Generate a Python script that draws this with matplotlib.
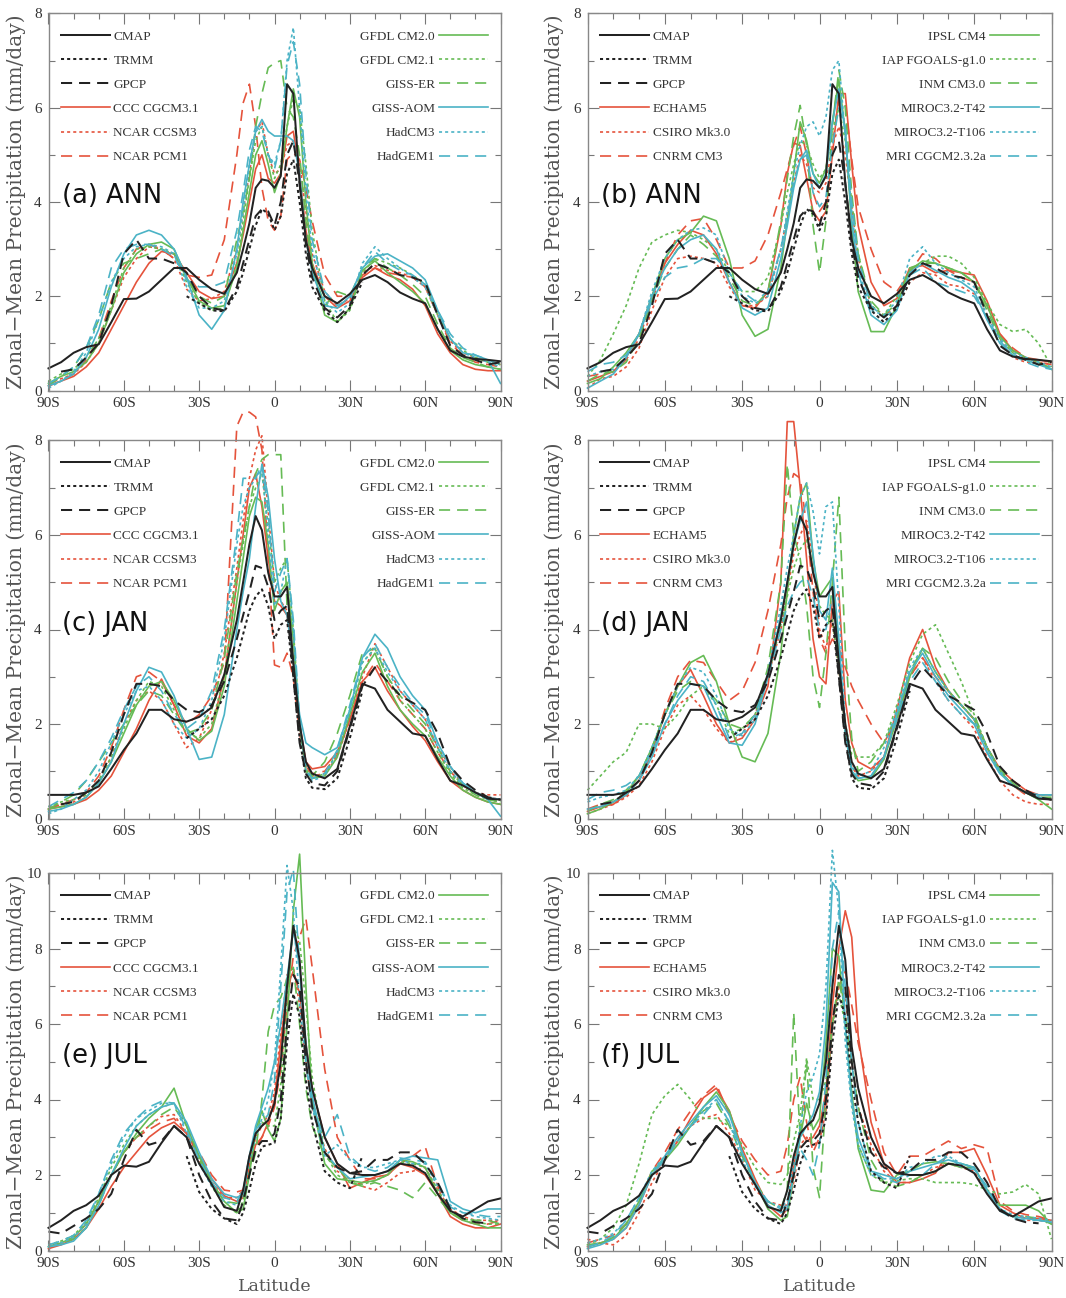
import numpy as np
import matplotlib.pyplot as plt
from matplotlib.lines import Line2D
from matplotlib.ticker import MultipleLocator

nan = np.nan

lat = [-90, -85, -80, -75, -70, -65, -60, -55, -50, -45,
       -40, -35, -30, -25, -20, -15, -12.5, -10, -7.5, -5, -2.5,
       0, 2.5, 5, 7.5, 10, 12.5, 15, 20, 25, 30,
       35, 40, 45, 50, 55, 60, 65, 70, 75, 80, 85, 90]

xtick_pos = [-90, -60, -30, 0, 30, 60, 90]
xtick_lab = ['90S', '60S', '30S', '0', '30N', '60N', '90N']

obs_names = ['CMAP', 'TRMM', 'GPCP']
left_models = ['CCC CGCM3.1', 'NCAR CCSM3', 'NCAR PCM1', 'GFDL CM2.0', 'GFDL CM2.1',
               'GISS-ER', 'GISS-AOM', 'HadCM3', 'HadGEM1']
right_models = ['ECHAM5', 'CSIRO Mk3.0', 'CNRM CM3', 'IPSL CM4', 'IAP FGOALS-g1.0',
                'INM CM3.0', 'MIROC3.2-T42', 'MIROC3.2-T106', 'MRI CGCM2.3.2a']

# ---------------- ANN ----------------
cmap_ann = [0.47, 0.6, 0.8, 0.92, 0.98, 1.45, 1.94, 1.95, 2.1, 2.35,
            2.6, 2.6, 2.35, 2.15, 2.05, 2.5, 3.0, 3.55, 4.3, 4.48, 4.45,
            4.3, 4.55, 6.5, 6.3, 4.4, 3.2, 2.6, 2.0, 1.85, 2.05,
            2.35, 2.45, 2.3, 2.08, 1.95, 1.85, 1.3, 0.85, 0.72, 0.67, 0.65, 0.62]
trmm_ann = [nan, nan, nan, nan, nan, nan, nan, nan, nan, nan,
            nan, 2.0, 1.85, 1.7, 1.68, 2.1, 2.5, 3.0, 3.5, 3.85, 3.75,
            3.4, 3.7, 4.6, 4.9, 4.0, 2.9, 2.2, 1.7, 1.45, 1.75,
            2.3, nan, nan, nan, nan, nan, nan, nan, nan, nan, nan, nan]
gpcp_ann = [nan, 0.4, 0.45, 0.7, 1.0, 1.8, 2.9, 3.2, 2.8, 2.8,
            2.7, 2.5, 2.0, 1.75, 1.7, 2.2, 2.7, 3.2, 3.7, 3.85, 3.8,
            3.5, 4.0, 5.0, 5.3, 4.4, 3.1, 2.4, 1.75, 1.55, 1.8,
            2.45, 2.7, 2.6, 2.45, 2.4, 2.3, 1.6, 0.95, 0.75, 0.65, 0.55, 0.6]

ccc_ann = [0.1, 0.2, 0.3, 0.5, 0.8, 1.3, 1.8, 2.3, 2.7, 2.95,
           2.9, 2.5, 2.1, 1.95, 2.0, 2.7, 3.3, 4.0, 4.7, 5.0, 4.5,
           4.4, 4.6, 5.4, 5.5, 4.6, 3.4, 2.7, 2.0, 1.75, 1.9,
           2.4, 2.6, 2.45, 2.35, 2.15, 1.8, 1.2, 0.8, 0.55, 0.45, 0.42, 0.42]
ccsm3_ann = [0.15, 0.25, 0.35, 0.6, 1.0, 1.7, 2.4, 2.8, 3.05, 3.0,
             2.8, 2.15, 1.9, 1.95, 2.1, 3.0, 3.8, 4.6, 5.5, 5.7, 5.0,
             4.6, 4.7, 5.2, 5.3, 4.8, 3.8, 2.9, 2.1, 1.8, 1.95,
             2.5, 2.65, 2.55, 2.5, 2.4, 2.2, 1.6, 1.05, 0.8, 0.7, 0.6, 0.55]
pcm1_ann = [0.1, 0.2, 0.35, 0.65, 1.1, 1.9, 2.6, 3.0, 3.1, 3.0,
            2.8, 2.45, 2.4, 2.45, 3.2, 5.0, 6.1, 6.5, 5.6, 4.3, 3.6,
            3.4, 3.7, 4.9, 5.05, 4.9, 4.3, 3.6, 2.45, 2.0, 2.0,
            2.45, 2.6, 2.5, 2.45, 2.4, 2.2, 1.6, 1.0, 0.75, 0.6, 0.55, 0.5]
gfdl20_ann = [0.15, 0.3, 0.4, 0.6, 1.0, 1.7, 2.5, 2.9, 3.1, 3.15,
              3.0, 2.4, 1.9, 1.75, 1.8, 2.6, 3.4, 4.2, 5.0, 5.3, 4.8,
              4.2, 4.6, 5.6, 6.4, 5.8, 4.0, 2.7, 1.6, 1.45, 1.75,
              2.55, 2.75, 2.5, 2.3, 2.1, 1.85, 1.3, 0.85, 0.65, 0.55, 0.5, 0.45]
gfdl21_ann = [0.2, 0.35, 0.45, 0.7, 1.1, 1.8, 2.6, 3.0, 3.05, 3.0,
              2.9, 2.3, 1.85, 1.7, 1.75, 2.7, 3.6, 4.5, 5.3, 5.6, 5.0,
              4.5, 4.8, 5.6, 6.2, 6.0, 4.8, 3.4, 1.9, 1.45, 1.7,
              2.5, 2.8, 2.7, 2.6, 2.45, 2.25, 1.6, 1.1, 0.85, 0.7, 0.6, 0.55]
gisser_ann = [0.1, 0.3, 0.5, 0.9, 1.5, 2.3, 2.7, 2.8, 2.9, 3.0,
              2.9, 2.4, 2.0, 1.85, 2.0, 3.2, 3.8, 4.5, 5.6, 6.3, 6.85,
              6.95, 7.0, 6.0, 5.8, 5.0, 3.6, 2.6, 1.8, 2.1, 2.0,
              2.6, 2.8, 2.6, 2.45, 2.25, 2.0, 1.4, 0.9, 0.7, 0.6, 0.5, 0.45]
gissaom_ann = [0.1, 0.2, 0.35, 0.7, 1.3, 2.2, 2.9, 3.3, 3.4, 3.3,
               3.0, 2.4, 1.6, 1.3, 1.7, 3.0, 4.0, 4.8, 5.5, 5.75, 5.5,
               5.4, 5.4, 5.4, 5.3, 4.6, 3.2, 2.5, 1.8, 1.75, 2.0,
               2.6, 2.85, 2.9, 2.75, 2.6, 2.35, 1.7, 1.1, 0.8, 0.75, 0.65, 0.15]
hadcm3_ann = [0.05, 0.2, 0.4, 0.8, 1.5, 2.3, 2.8, 3.05, 3.1, 3.05,
              2.9, 2.2, 1.75, 1.75, 1.9, 2.9, 3.8, 4.8, 5.5, 5.6, 5.0,
              4.8, 5.3, 7.0, 7.7, 6.0, 4.2, 3.0, 1.9, 1.65, 1.85,
              2.7, 3.05, 2.8, 2.6, 2.4, 2.2, 1.6, 1.1, 0.8, 0.7, 0.6, 0.5]
hadgem1_ann = [0.15, 0.3, 0.5, 0.9, 1.6, 2.6, 3.0, 3.1, 3.1, 3.0,
               2.85, 2.35, 2.2, 2.2, 2.3, 3.4, 4.2, 5.1, 5.6, 5.5, 5.0,
               4.7, 5.3, 6.9, 7.4, 6.5, 4.6, 3.2, 2.1, 1.8, 1.95,
               2.6, 2.95, 2.7, 2.55, 2.45, 2.25, 1.7, 1.2, 0.9, 0.75, 0.65, 0.55]

echam5_ann = [0.2, 0.3, 0.4, 0.7, 1.2, 2.0, 2.7, 3.1, 3.4, 3.3,
              2.9, 2.3, 1.8, 1.75, 2.1, 3.5, 4.6, 5.25, 5.2, 4.5, 3.8,
              3.6, 3.8, 5.0, 6.3, 6.3, 4.8, 3.5, 2.3, 1.8, 1.95,
              2.6, 2.65, 2.5, 2.55, 2.5, 2.45, 1.9, 1.2, 0.85, 0.7, 0.65, 0.6]
csiro_ann = [0.05, 0.25, 0.3, 0.5, 0.9, 1.7, 2.4, 2.8, 2.85, 2.8,
             2.7, 2.2, 1.8, 1.8, 2.0, 3.0, 3.7, 4.4, 5.0, 4.8, 4.3,
             4.2, 4.4, 5.2, 5.6, 5.0, 3.9, 2.8, 1.8, 1.6, 1.75,
             2.3, 2.5, 2.45, 2.25, 2.2, 2.05, 1.6, 1.1, 0.7, 0.6, 0.6, 0.55]
cnrm_ann = [0.3, 0.35, 0.4, 0.65, 1.1, 1.9, 2.7, 3.3, 3.6, 3.65,
            3.2, 2.6, 2.6, 2.75, 3.3, 4.2, 4.7, 5.2, 5.6, 5.0, 4.2,
            3.8, 4.0, 5.2, 6.2, 6.1, 4.9, 3.9, 3.0, 2.3, 2.1,
            2.5, 2.9, 2.8, 2.55, 2.4, 2.3, 1.8, 1.2, 0.9, 0.7, 0.6, 0.55]
ipsl_ann = [0.15, 0.25, 0.5, 0.8, 1.2, 2.0, 2.8, 3.2, 3.35, 3.7,
            3.6, 2.8, 1.6, 1.15, 1.3, 2.6, 3.6, 4.6, 5.7, 5.3, 4.6,
            4.4, 4.7, 5.7, 6.6, 5.5, 3.5, 2.1, 1.25, 1.25, 1.8,
            2.55, 2.75, 2.7, 2.6, 2.5, 2.3, 1.8, 1.15, 0.85, 0.7, 0.6, 0.45]
iap_ann = [0.3, 0.65, 1.2, 1.8, 2.6, 3.15, 3.3, 3.4, 3.35, 3.2,
           3.0, 2.5, 2.1, 2.1, 2.4, 3.5, 4.2, 4.8, 5.3, 5.2, 4.8,
           4.5, 4.7, 5.5, 6.0, 5.3, 4.0, 2.9, 1.8, 1.6, 2.0,
           2.55, 2.7, 2.85, 2.85, 2.7, 2.4, 1.85, 1.4, 1.25, 1.3, 1.0, 0.5]
inm_ann = [0.2, 0.35, 0.4, 0.6, 1.1, 1.9, 2.6, 3.0, 3.3, 3.1,
           2.85, 2.4, 1.9, 1.8, 2.1, 3.6, 4.5, 5.4, 6.05, 5.2, 3.5,
           2.5, 3.6, 5.6, 6.8, 6.0, 4.2, 2.9, 1.9, 1.6, 1.85,
           2.6, 2.7, 2.7, 2.6, 2.5, 2.3, 1.7, 1.1, 0.8, 0.65, 0.55, 0.5]
miroc42_ann = [0.05, 0.2, 0.35, 0.7, 1.2, 2.0, 2.6, 3.0, 3.2, 3.3,
               3.0, 2.3, 1.75, 1.6, 1.75, 2.8, 3.5, 4.3, 4.9, 5.1, 4.6,
               4.3, 4.6, 5.7, 6.4, 5.5, 3.6, 2.5, 1.6, 1.4, 1.7,
               2.5, 2.7, 2.55, 2.4, 2.3, 2.1, 1.5, 1.0, 0.75, 0.65, 0.55, 0.45]
miroc106_ann = [0.3, 0.4, 0.45, 0.7, 1.2, 2.1, 2.8, 3.2, 3.4, 3.45,
                3.3, 2.5, 2.0, 1.85, 2.0, 3.0, 3.8, 4.6, 5.2, 5.6, 5.7,
                5.4, 5.8, 6.8, 7.0, 5.4, 3.8, 2.6, 1.7, 1.6, 1.9,
                2.8, 3.05, 2.7, 2.5, 2.35, 2.2, 1.6, 1.1, 0.8, 0.7, 0.6, 0.5]
mri_ann = [0.4, 0.55, 0.6, 0.75, 1.2, 1.9, 2.4, 2.6, 2.65, 2.8,
           2.8, 2.5, 2.1, 1.9, 2.1, 3.0, 3.7, 4.4, 4.9, 5.0, 4.2,
           3.9, 4.1, 5.2, 6.0, 5.6, 4.0, 2.8, 1.8, 1.55, 1.75,
           2.45, 2.6, 2.3, 2.2, 2.1, 2.0, 1.55, 1.05, 0.75, 0.6, 0.5, 0.45]

# ---------------- JAN ----------------
cmap_jan = [0.5, 0.5, 0.5, 0.55, 0.68, 1.05, 1.45, 1.8, 2.3, 2.3,
            2.1, 2.05, 2.15, 2.35, 3.05, 4.2, 5.0, 5.8, 6.4, 6.1, 5.2,
            4.7, 4.7, 4.9, 3.3, 2.0, 1.2, 0.95, 0.85, 1.05, 1.95,
            2.85, 2.75, 2.3, 2.05, 1.8, 1.75, 1.25, 0.8, 0.7, 0.55, 0.42, 0.4]
trmm_jan = [nan, nan, nan, nan, nan, nan, nan, nan, nan, nan,
            nan, 1.7, 1.9, 2.1, 2.6, 3.4, 3.9, 4.4, 4.7, 4.85, 4.5,
            3.8, 4.1, 4.2, 3.0, 1.7, 0.85, 0.65, 0.62, 0.85, 1.7,
            2.7, nan, nan, nan, nan, nan, nan, nan, nan, nan, nan, nan]
gpcp_jan = [nan, 0.3, 0.35, 0.55, 0.8, 1.4, 2.2, 2.85, 2.85, 2.8,
            2.5, 2.3, 2.25, 2.4, 2.9, 3.8, 4.3, 4.8, 5.35, 5.3, 4.9,
            4.2, 4.4, 4.5, 3.0, 1.6, 0.95, 0.75, 0.7, 1.0, 1.9,
            2.8, 3.2, 2.9, 2.6, 2.45, 2.3, 1.8, 1.1, 0.8, 0.6, 0.45, 0.4]

ccc_jan = [0.2, 0.25, 0.3, 0.4, 0.6, 0.9, 1.4, 1.9, 2.5, 2.95,
           2.4, 1.75, 1.6, 1.9, 3.0, 5.0, 6.0, 7.0, 7.3, 6.6, 5.5,
           4.6, 4.5, 4.3, 3.3, 2.0, 1.2, 1.05, 1.1, 1.4, 2.1,
           2.9, 3.2, 2.7, 2.3, 1.95, 1.65, 1.2, 0.8, 0.6, 0.45, 0.35, 0.3]
ccsm3_jan = [0.25, 0.3, 0.35, 0.5, 0.8, 1.3, 2.0, 2.5, 2.7, 2.5,
             2.0, 1.5, 1.7, 2.3, 3.5, 5.3, 6.3, 7.2, 7.8, 8.1, 6.5,
             5.0, 4.6, 4.4, 3.3, 1.9, 1.1, 0.9, 0.95, 1.3, 2.1,
             3.0, 3.7, 3.2, 2.7, 2.4, 2.1, 1.5, 1.1, 0.7, 0.55, 0.5, 0.5]
pcm1_jan = [0.2, 0.3, 0.4, 0.55, 0.9, 1.5, 2.3, 3.0, 3.1, 2.9,
            2.4, 2.0, 2.2, 2.6, 3.3, 8.3, 8.6, 8.6, 8.5, 7.8, 5.5,
            3.25, 3.2, 3.5, 3.0, 1.8, 1.1, 0.95, 1.0, 1.35, 2.1,
            2.9, 3.3, 2.9, 2.5, 2.2, 1.9, 1.4, 1.0, 0.7, 0.55, 0.45, 0.4]
gfdl20_jan = [0.2, 0.25, 0.3, 0.45, 0.75, 1.2, 1.8, 2.4, 2.8, 2.9,
              2.5, 1.9, 1.65, 1.85, 2.8, 4.6, 5.5, 6.4, 6.8, 6.7, 5.8,
              4.4, 4.8, 5.0, 3.8, 2.0, 1.0, 0.85, 0.9, 1.3, 2.2,
              3.1, 3.5, 2.8, 2.3, 2.0, 1.75, 1.3, 0.9, 0.6, 0.45, 0.35, 0.3]
gfdl21_jan = [0.25, 0.35, 0.4, 0.5, 0.8, 1.3, 1.9, 2.5, 2.9, 2.8,
              2.3, 1.8, 1.7, 2.0, 3.0, 5.0, 5.8, 6.6, 7.0, 7.3, 6.2,
              5.0, 5.3, 5.5, 4.0, 2.0, 1.05, 0.85, 0.95, 1.4, 2.3,
              3.3, 3.6, 3.0, 2.5, 2.2, 1.9, 1.4, 0.95, 0.65, 0.5, 0.4, 0.35]
gisser_jan = [0.2, 0.35, 0.5, 0.8, 1.2, 1.6, 2.0, 2.4, 2.7, 2.6,
              2.2, 1.8, 1.9, 2.3, 3.4, 5.2, 5.9, 6.6, 7.3, 7.6, 7.7,
              7.7, 7.7, 4.5, 3.3, 1.9, 1.1, 0.9, 1.2, 1.8, 2.6,
              3.5, 3.6, 3.0, 2.6, 2.3, 2.0, 1.5, 1.0, 0.7, 0.5, 0.4, 0.35]
gissaom_jan = [0.15, 0.2, 0.3, 0.45, 0.75, 1.2, 2.0, 2.7, 3.2, 3.1,
               2.6, 1.9, 1.25, 1.3, 2.2, 4.0, 4.8, 5.5, 6.6, 7.5, 6.8,
               5.5, 4.6, 4.3, 3.3, 2.2, 1.6, 1.5, 1.35, 1.5, 2.3,
               3.4, 3.9, 3.6, 3.0, 2.6, 2.3, 1.6, 1.1, 0.75, 0.55, 0.4, 0.05]
hadcm3_jan = [0.1, 0.2, 0.4, 0.6, 1.0, 1.6, 2.2, 2.7, 2.8, 2.5,
              2.0, 1.7, 1.9, 2.5, 3.8, 5.8, 6.6, 7.0, 7.2, 7.4, 6.0,
              4.5, 4.8, 5.5, 4.0, 2.0, 1.0, 0.8, 0.9, 1.4, 2.3,
              3.3, 3.6, 3.1, 2.7, 2.4, 2.1, 1.5, 1.0, 0.7, 0.55, 0.45, 0.4]
hadgem1_jan = [0.25, 0.4, 0.55, 0.8, 1.2, 1.7, 2.3, 2.8, 3.0, 2.7,
               2.2, 1.9, 2.1, 2.7, 4.0, 6.0, 7.2, 7.2, 7.2, 7.5, 6.5,
               4.8, 5.2, 5.5, 4.2, 2.1, 1.05, 0.85, 0.95, 1.45, 2.4,
               3.4, 3.7, 3.2, 2.8, 2.45, 2.2, 1.6, 1.1, 0.75, 0.55, 0.45, 0.4]

echam5_jan = [0.15, 0.25, 0.3, 0.5, 0.8, 1.4, 2.2, 2.8, 3.15, 2.6,
              2.0, 1.6, 1.7, 2.1, 2.8, 5.0, 8.4, 8.4, 7.0, 5.5, 3.8,
              3.0, 2.85, 4.6, 4.8, 2.5, 1.6, 1.2, 1.05, 1.3, 2.3,
              3.4, 4.0, 3.2, 2.7, 2.4, 2.1, 1.5, 1.05, 0.8, 0.6, 0.5, 0.5]
csiro_jan = [0.1, 0.2, 0.3, 0.45, 0.7, 1.2, 1.9, 2.4, 2.6, 2.3,
             1.9, 1.6, 1.8, 2.2, 3.0, 4.0, 4.8, 5.6, 6.0, 6.3, 5.5,
             4.0, 3.6, 4.2, 3.2, 1.8, 1.1, 0.9, 1.0, 1.3, 2.1,
             3.0, 3.4, 2.9, 2.5, 2.2, 1.9, 1.3, 0.8, 0.5, 0.35, 0.3, 0.3]
cnrm_jan = [0.2, 0.3, 0.35, 0.5, 0.8, 1.4, 2.3, 3.0, 3.35, 3.3,
            2.9, 2.5, 2.7, 3.3, 4.4, 5.8, 6.8, 7.3, 7.2, 6.2, 4.8,
            3.8, 3.5, 3.8, 3.6, 3.2, 2.8, 2.5, 2.0, 1.6, 2.1,
            3.0, 3.4, 3.0, 2.7, 2.4, 2.1, 1.5, 1.0, 0.7, 0.5, 0.45, 0.4]
ipsl_jan = [0.1, 0.2, 0.35, 0.55, 0.9, 1.5, 2.2, 2.8, 3.3, 3.45,
            2.9, 2.0, 1.3, 1.2, 1.8, 3.5, 4.8, 6.0, 6.8, 7.1, 5.5,
            4.7, 4.9, 5.1, 3.5, 1.8, 1.0, 0.8, 0.85, 1.25, 2.1,
            3.0, 3.6, 3.1, 2.7, 2.4, 2.1, 1.5, 1.0, 0.7, 0.55, 0.4, 0.2]
iap_jan = [0.6, 0.9, 1.2, 1.4, 2.0, 2.0, 1.9, 2.2, 2.6, 2.8,
           2.4, 1.8, 1.9, 2.2, 3.0, 4.1, 4.7, 5.3, 5.7, 5.9, 5.3,
           4.5, 4.3, 4.2, 3.2, 2.0, 1.35, 1.3, 1.3, 1.6, 2.4,
           3.3, 3.9, 4.1, 3.5, 2.9, 2.2, 1.5, 1.0, 0.7, 0.55, 0.45, 0.4]
inm_jan = [0.15, 0.3, 0.4, 0.6, 0.9, 1.5, 2.2, 2.7, 2.9, 2.8,
           2.5, 2.0, 1.9, 2.2, 3.2, 5.0, 7.5, 6.0, 5.5, 4.5, 3.0,
           2.35, 3.5, 5.0, 6.8, 3.6, 1.7, 1.0, 1.2, 1.6, 2.2,
           3.1, 3.6, 3.4, 2.9, 2.5, 2.2, 1.5, 1.05, 0.75, 0.55, 0.45, 0.45]
miroc42_jan = [0.2, 0.25, 0.35, 0.5, 0.8, 1.3, 2.0, 2.5, 2.85, 2.8,
               2.2, 1.6, 1.55, 2.0, 3.0, 4.3, 5.0, 5.8, 6.3, 6.7, 5.6,
               4.4, 4.2, 5.3, 3.8, 1.9, 1.0, 0.85, 0.9, 1.3, 2.2,
               3.1, 3.5, 3.0, 2.6, 2.3, 2.0, 1.4, 0.95, 0.7, 0.55, 0.5, 0.5]
miroc106_jan = [0.35, 0.45, 0.5, 0.6, 0.9, 1.5, 2.2, 2.8, 3.2, 3.1,
                2.6, 1.9, 1.75, 2.1, 3.1, 4.5, 5.3, 6.0, 6.8, 7.1, 6.5,
                5.6, 6.6, 6.7, 4.5, 2.0, 1.1, 0.9, 1.0, 1.5, 2.3,
                3.2, 3.6, 3.1, 2.7, 2.4, 2.1, 1.5, 1.0, 0.7, 0.55, 0.5, 0.5]
mri_jan = [0.4, 0.55, 0.6, 0.7, 0.9, 1.4, 2.0, 2.6, 3.0, 2.9,
           2.4, 1.7, 1.8, 2.2, 3.0, 4.0, 4.5, 4.8, 5.0, 5.1, 4.7,
           4.0, 4.0, 4.7, 3.5, 1.8, 1.0, 0.85, 0.9, 1.3, 2.1,
           2.9, 3.3, 2.9, 2.5, 2.2, 2.0, 1.4, 0.95, 0.7, 0.55, 0.45, 0.4]

# ---------------- JUL ----------------
cmap_jul = [0.6, 0.8, 1.05, 1.2, 1.45, 2.0, 2.25, 2.22, 2.35, 2.85,
            3.3, 3.0, 2.3, 1.75, 1.15, 1.05, 1.6, 2.5, 3.1, 3.3, 3.45,
            3.9, 5.0, 7.0, 8.6, 7.7, 5.4, 4.3, 3.0, 2.3, 2.05,
            2.0, 2.0, 2.1, 2.3, 2.25, 2.05, 1.5, 1.05, 0.9, 1.1, 1.3, 1.38]
trmm_jul = [nan, nan, nan, nan, nan, nan, nan, nan, nan, nan,
            nan, 2.5, 1.55, 1.1, 0.85, 0.7, 1.0, 1.6, 2.3, 2.75, 2.8,
            2.85, 3.5, 5.5, 6.8, 6.2, 4.5, 3.4, 2.1, 1.8, 1.65,
            2.5, nan, nan, nan, nan, nan, nan, nan, nan, nan, nan, nan]
gpcp_jul = [0.5, 0.45, 0.65, 0.85, 1.1, 1.5, 2.4, 3.2, 2.8, 2.9,
            3.3, 3.0, 2.0, 1.3, 0.85, 0.8, 1.3, 2.0, 2.7, 2.9, 2.9,
            3.1, 4.0, 6.0, 7.3, 7.0, 5.0, 3.8, 2.6, 2.2, 2.05,
            2.1, 2.4, 2.4, 2.6, 2.6, 2.3, 1.8, 1.1, 0.85, 0.75, 0.72, nan]

ccc_jul = [0.05, 0.15, 0.3, 0.6, 1.1, 1.7, 2.2, 2.6, 3.0, 3.25,
           3.4, 3.1, 2.5, 1.9, 1.45, 1.3, 1.4, 2.2, 2.8, 3.0, 3.4,
           4.0, 5.5, 7.0, 7.4, 6.8, 5.5, 4.3, 3.0, 2.3, 1.65,
           1.8, 1.95, 2.0, 2.3, 2.2, 2.0, 1.5, 0.9, 0.7, 0.6, 0.6, 0.7]
ccsm3_jul = [0.1, 0.2, 0.35, 0.7, 1.3, 2.0, 2.6, 3.0, 3.3, 3.55,
             3.6, 3.1, 2.4, 1.8, 1.4, 1.4, 1.6, 2.3, 3.0, 3.3, 3.6,
             4.2, 5.8, 7.3, 7.5, 6.5, 5.0, 3.8, 2.7, 2.1, 1.9,
             1.7, 1.6, 1.8, 2.05, 2.1, 2.2, 1.6, 1.1, 0.9, 0.8, 0.8, 0.8]
pcm1_jul = [0.1, 0.2, 0.35, 0.7, 1.3, 2.0, 2.6, 3.0, 3.2, 3.4,
            3.5, 3.1, 2.6, 2.0, 1.6, 1.55, 1.6, 2.2, 2.7, 3.0, 3.3,
            3.8, 4.8, 6.5, 7.8, 8.3, 8.8, 7.5, 4.8, 3.0, 2.4,
            1.9, 1.9, 2.0, 2.3, 2.5, 2.75, 1.7, 1.0, 0.8, 0.7, 0.7, 0.8]
gfdl20_jul = [0.1, 0.2, 0.35, 0.7, 1.3, 2.0, 2.6, 3.1, 3.5, 3.8,
              4.3, 3.3, 2.5, 1.8, 1.3, 1.0, 1.1, 2.0, 3.2, 3.7, 3.2,
              2.9, 3.5, 6.0, 9.0, 10.5, 7.0, 4.0, 2.3, 1.9, 1.85,
              1.8, 1.85, 2.0, 2.4, 2.35, 2.2, 1.5, 1.0, 0.8, 0.7, 0.6, 0.6]
gfdl21_jul = [0.15, 0.25, 0.4, 0.75, 1.4, 2.2, 2.8, 3.3, 3.6, 3.8,
              3.9, 3.3, 2.4, 1.7, 1.2, 1.0, 1.3, 2.1, 3.0, 3.4, 3.3,
              3.3, 4.4, 6.8, 8.6, 8.2, 6.5, 4.6, 2.6, 2.0, 1.8,
              1.75, 1.85, 2.0, 2.35, 2.3, 2.2, 1.6, 1.05, 0.85, 0.75, 0.7, 0.7]
gisser_jul = [0.1, 0.2, 0.3, 0.6, 1.2, 2.0, 2.6, 3.0, 3.3, 3.6,
              3.8, 3.3, 2.5, 1.8, 1.3, 1.25, 1.4, 2.0, 2.6, 4.0, 5.8,
              6.5, 6.7, 7.2, 7.5, 6.0, 4.3, 3.3, 2.5, 2.2, 1.8,
              1.7, 1.8, 1.7, 1.6, 1.4, 1.8, 1.4, 1.0, 0.85, 0.8, 0.8, 0.7]
gissaom_jul = [0.1, 0.15, 0.25, 0.6, 1.2, 2.0, 2.7, 3.3, 3.6, 3.8,
               3.9, 3.4, 2.6, 1.9, 1.5, 1.4, 1.5, 2.5, 3.3, 3.8, 4.3,
               5.0, 6.0, 7.2, 8.5, 7.5, 5.5, 4.1, 2.6, 2.2, 1.9,
               1.95, 2.0, 2.1, 2.4, 2.5, 2.45, 2.4, 1.3, 1.1, 1.0, 1.1, 1.1]
hadcm3_jul = [0.1, 0.2, 0.35, 0.7, 1.5, 2.3, 3.0, 3.5, 3.7, 3.9,
              3.9, 3.1, 2.3, 1.7, 1.3, 1.2, 1.5, 2.4, 3.0, 3.5, 4.0,
              5.0, 7.5, 10.2, 9.0, 6.5, 5.0, 3.8, 2.5, 2.8, 2.4,
              2.2, 2.2, 2.3, 2.4, 2.3, 2.3, 1.7, 1.2, 1.0, 0.9, 0.85, 0.8]
hadgem1_jul = [0.15, 0.25, 0.4, 0.8, 1.5, 2.4, 3.1, 3.5, 3.8, 3.95,
               3.9, 3.2, 2.4, 1.8, 1.4, 1.3, 1.6, 2.5, 3.2, 3.4, 3.6,
               4.5, 7.0, 9.5, 10.1, 7.5, 5.0, 3.8, 3.0, 3.6, 2.5,
               2.2, 2.1, 2.2, 2.45, 2.4, 2.35, 1.8, 1.15, 1.0, 0.95, 0.9, 0.9]

echam5_jul = [0.1, 0.2, 0.3, 0.6, 1.2, 2.0, 2.4, 2.9, 3.5, 4.05,
              4.3, 3.7, 2.7, 1.9, 1.2, 0.9, 1.1, 2.2, 3.2, 2.9, 3.0,
              3.3, 4.2, 6.5, 8.0, 9.0, 8.3, 5.7, 3.4, 2.3, 1.8,
              1.8, 1.9, 2.05, 2.6, 2.6, 2.7, 2.0, 1.2, 1.0, 0.85, 0.85, 0.8]
csiro_jul = [0.3, 0.2, 0.15, 0.4, 1.0, 1.8, 2.4, 2.9, 3.3, 3.5,
             3.6, 3.1, 2.4, 1.6, 1.3, 1.2, 1.2, 1.8, 2.8, 3.0, 2.8,
             2.9, 3.7, 6.0, 7.0, 6.8, 5.0, 3.8, 2.8, 2.1, 1.8,
             1.8, 2.0, 2.2, 2.3, 2.2, 2.1, 1.6, 1.1, 0.9, 0.8, 0.8, 0.75]
cnrm_jul = [0.2, 0.3, 0.4, 0.7, 1.3, 2.1, 2.6, 3.2, 3.7, 4.1,
            4.4, 3.6, 2.9, 2.4, 2.0, 2.1, 2.8, 4.0, 4.6, 3.4, 2.6,
            3.0, 4.0, 6.0, 7.0, 7.4, 6.5, 5.5, 4.0, 2.6, 2.0,
            2.5, 2.5, 2.7, 2.9, 2.7, 2.8, 2.7, 1.3, 1.05, 0.95, 0.9, 0.8]
ipsl_jul = [0.15, 0.2, 0.3, 0.7, 1.3, 2.1, 2.4, 2.8, 3.3, 3.8,
            4.2, 3.7, 2.6, 1.8, 1.1, 0.8, 0.9, 2.0, 3.0, 3.9, 3.2,
            3.5, 5.5, 8.0, 7.8, 6.0, 4.2, 2.7, 1.6, 1.55, 2.0,
            2.1, 2.3, 2.35, 2.3, 2.2, 2.2, 1.6, 1.2, 1.2, 1.2, 1.05, 0.7]
iap_jul = [0.15, 0.3, 0.6, 1.2, 2.3, 3.6, 4.1, 4.4, 4.0, 3.5,
           3.5, 3.3, 2.8, 2.2, 1.8, 1.75, 2.0, 2.9, 3.6, 5.1, 4.0,
           4.0, 4.5, 6.0, 6.8, 6.0, 4.0, 2.8, 2.0, 1.8, 1.85,
           1.9, 1.9, 1.8, 1.8, 1.8, 1.75, 1.6, 1.5, 1.55, 1.75, 1.5, 0.3]
inm_jul = [0.1, 0.2, 0.35, 0.7, 1.3, 2.0, 2.5, 2.9, 3.3, 3.7,
           3.9, 3.3, 2.5, 1.8, 1.3, 1.1, 1.6, 6.3, 3.0, 5.0, 2.2,
           1.4, 4.0, 6.0, 7.2, 6.2, 5.0, 3.8, 2.4, 1.8, 1.7,
           1.8, 2.0, 2.1, 2.3, 2.3, 2.2, 1.6, 1.1, 0.9, 0.9, 0.85, 0.7]
miroc42_jul = [0.05, 0.15, 0.3, 0.6, 1.2, 2.0, 2.5, 3.0, 3.4, 3.8,
               4.1, 3.6, 2.6, 1.8, 1.2, 1.0, 1.1, 2.0, 3.0, 3.3, 3.6,
               4.2, 6.0, 9.75, 9.5, 6.0, 4.0, 3.0, 2.1, 2.0, 1.9,
               2.1, 2.2, 2.3, 2.4, 2.3, 2.2, 1.6, 1.1, 0.9, 0.85, 0.8, 0.75]
miroc106_jul = [0.2, 0.3, 0.45, 0.8, 1.4, 2.1, 2.5, 2.9, 3.3, 3.7,
                4.0, 3.4, 2.4, 1.7, 1.3, 1.15, 1.3, 2.3, 3.3, 4.2, 4.6,
                5.2, 7.0, 10.6, 9.0, 5.5, 3.8, 2.8, 2.0, 1.9, 1.9,
                2.2, 2.3, 2.5, 2.5, 2.3, 2.2, 1.6, 1.1, 0.95, 0.9, 0.85, 0.8]
mri_jul = [0.1, 0.2, 0.4, 0.8, 1.4, 2.0, 2.4, 2.9, 3.3, 3.6,
           4.0, 3.4, 2.6, 1.8, 1.3, 1.1, 1.2, 2.0, 2.7, 2.4, 2.0,
           2.8, 4.5, 8.0, 9.0, 7.0, 5.0, 3.4, 2.1, 1.9, 1.8,
           2.0, 2.0, 2.3, 2.5, 2.2, 2.15, 1.7, 1.05, 0.85, 0.8, 0.8, 0.75]


plt.rcParams['lines.scale_dashes'] = False

BLACK = '#222222'
RED = '#e5533c'
GREEN = '#66bb55'
CYAN = '#4bb3c6'
SOLID = '-'
DOT = (0, (2.2, 2.2))
DASH = (0, (8, 5))

obs_styles = [(BLACK, SOLID), (BLACK, DOT), (BLACK, DASH)]
mod_styles = [(RED, SOLID), (RED, DOT), (RED, DASH),
              (GREEN, SOLID), (GREEN, DOT), (GREEN, DASH),
              (CYAN, SOLID), (CYAN, DOT), (CYAN, DASH)]

W, H = 1066, 1298
fig = plt.figure(figsize=(W / 100, H / 100), dpi=100)


def box(left, right, top, bottom):
    return [left / W, 1 - bottom / H, (right - left) / W, (bottom - top) / H]


def panel(rect, obs, models, names, tag, ymax, xlabel=False):
    ax = fig.add_axes(rect)
    handles = []
    for vals, (c, ls) in zip(models, mod_styles):
        ax.plot(lat, vals, color=c, ls=ls, lw=1.2, clip_on=False)
    for vals, (c, ls) in zip(obs, obs_styles):
        ax.plot(lat, vals, color=c, ls=ls, lw=1.45, clip_on=False)
    for c, ls in obs_styles:
        handles.append(Line2D([], [], color=c, ls=ls, lw=1.45))
    for c, ls in mod_styles:
        handles.append(Line2D([], [], color=c, ls=ls, lw=1.2))
    labels = obs_names + names

    leg_kw = dict(frameon=False, handlelength=3.7, handletextpad=0.3,
                  labelspacing=0.9, borderpad=0, borderaxespad=0,
                  prop=dict(family='Liberation Serif', size=9.5), labelcolor='#333333')
    leg1 = ax.legend(handles[:6], labels[:6], loc='upper left',
                     bbox_to_anchor=(0.027, 0.955), **leg_kw)
    ax.add_artist(leg1)
    ax.legend(handles[6:], labels[6:], loc='upper right', markerfirst=False,
              bbox_to_anchor=(0.972, 0.955), **leg_kw)

    ax.text(0.03, 0.497, tag, transform=ax.transAxes, fontsize=18.5,
            family='DejaVu Sans', va='baseline', color='#111111')

    ax.set_xlim(-90, 90)
    ax.set_ylim(0, ymax)
    ax.set_xticks(xtick_pos)
    ax.set_xticklabels(xtick_lab)
    ax.xaxis.set_minor_locator(MultipleLocator(10))
    ax.yaxis.set_major_locator(MultipleLocator(2))
    ax.yaxis.set_minor_locator(MultipleLocator(1))
    ax.tick_params(which='both', direction='in', top=True, right=True,
                   color='#777777', width=0.8, labelcolor='#333333')
    ax.tick_params(which='major', length=8, pad=5)
    ax.tick_params(which='minor', length=4.5)
    for lab in ax.get_xticklabels() + ax.get_yticklabels():
        lab.set_family('Liberation Serif')
        lab.set_fontsize(11)
    for sp in ax.spines.values():
        sp.set_color('#888888')
        sp.set_linewidth(1.0)

    ax.set_ylabel('Zonal\u2212Mean Precipitation (mm/day)', family='DejaVu Serif',
                  fontsize=14.5, color='#555555')
    ax.yaxis.set_label_coords(-0.05, 0.5)
    if xlabel:
        ax.set_xlabel('Latitude', family='DejaVu Serif', fontsize=12.5, color='#555555')
        ax.xaxis.set_label_coords(0.5, -0.072)
    return ax


obs_ann = [cmap_ann, trmm_ann, gpcp_ann]
obs_jan = [cmap_jan, trmm_jan, gpcp_jan]
obs_jul = [cmap_jul, trmm_jul, gpcp_jul]

panel(box(48.5, 500.5, 13.5, 390.5), obs_ann,
      [ccc_ann, ccsm3_ann, pcm1_ann, gfdl20_ann, gfdl21_ann, gisser_ann,
       gissaom_ann, hadcm3_ann, hadgem1_ann], left_models, '(a) ANN', 8)
panel(box(587.5, 1051.5, 13.5, 390.5), obs_ann,
      [echam5_ann, csiro_ann, cnrm_ann, ipsl_ann, iap_ann, inm_ann,
       miroc42_ann, miroc106_ann, mri_ann], right_models, '(b) ANN', 8)
panel(box(48.5, 500.5, 440.5, 818.5), obs_jan,
      [ccc_jan, ccsm3_jan, pcm1_jan, gfdl20_jan, gfdl21_jan, gisser_jan,
       gissaom_jan, hadcm3_jan, hadgem1_jan], left_models, '(c) JAN', 8)
panel(box(587.5, 1051.5, 440.5, 818.5), obs_jan,
      [echam5_jan, csiro_jan, cnrm_jan, ipsl_jan, iap_jan, inm_jan,
       miroc42_jan, miroc106_jan, mri_jan], right_models, '(d) JAN', 8)
panel(box(48.5, 500.5, 873, 1250.5), obs_jul,
      [ccc_jul, ccsm3_jul, pcm1_jul, gfdl20_jul, gfdl21_jul, gisser_jul,
       gissaom_jul, hadcm3_jul, hadgem1_jul], left_models, '(e) JUL', 10, xlabel=True)
panel(box(587.5, 1051.5, 873, 1250.5), obs_jul,
      [echam5_jul, csiro_jul, cnrm_jul, ipsl_jul, iap_jul, inm_jul,
       miroc42_jul, miroc106_jul, mri_jul], right_models, '(f) JUL', 10, xlabel=True)

fig.savefig('out.png', dpi=100)
